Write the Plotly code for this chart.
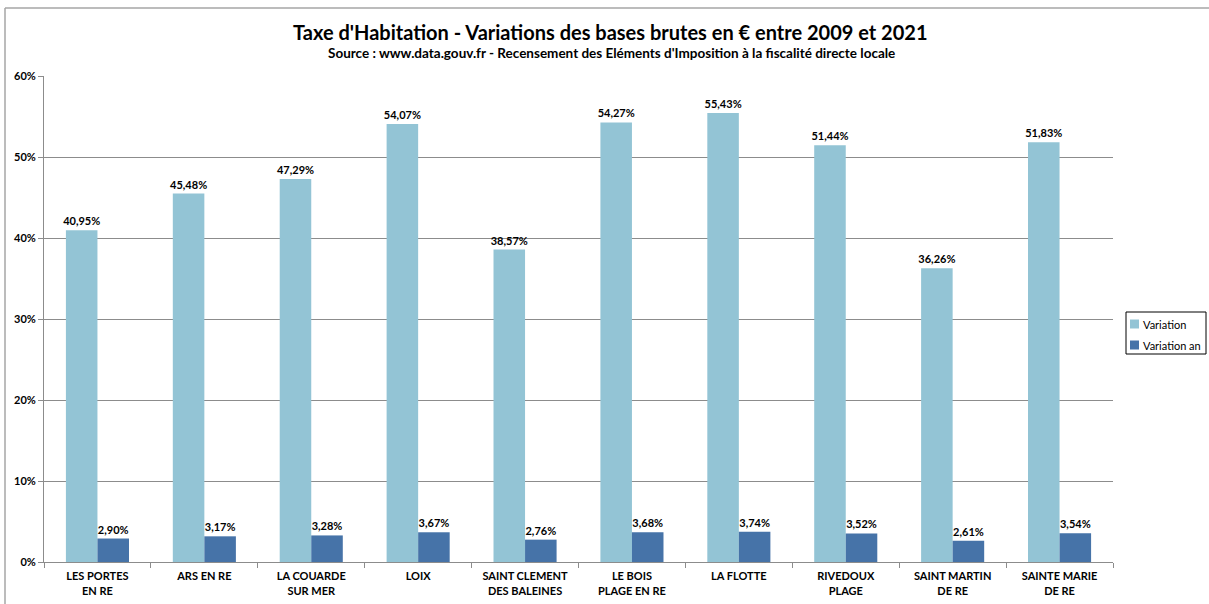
import plotly.graph_objects as go

communes = ["LES PORTES<br>EN RE", "ARS EN RE", "LA COUARDE<br>SUR MER", "LOIX",
            "SAINT CLEMENT<br>DES BALEINES", "LE BOIS<br>PLAGE EN RE", "LA FLOTTE",
            "RIVEDOUX<br>PLAGE", "SAINT MARTIN<br>DE RE", "SAINTE MARIE<br>DE RE"]
variation = [40.95, 45.48, 47.29, 54.07, 38.57, 54.27, 55.43, 51.44, 36.26, 51.83]
variation_an = [2.90, 3.17, 3.28, 3.67, 2.76, 3.68, 3.74, 3.52, 2.61, 3.54]
y_ticks = [0, 10, 20, 30, 40, 50, 60]
series_names = ["Variation", "Variation an"]
series_colors = ["#93C4D5", "#4673A8"]

FONT = "Lato"
W, H = 1209, 604
L, R, T, B = 44, 96, 76, 42
pw, ph = W - L - R, H - T - B


def fr(v):
    return f"{v:.2f}".replace(".", ",") + "%"


def px_x(x):
    return (x - L) / pw


def px_y(y):
    return (H - B - y) / ph


fig = go.Figure()
for name, color, vals in zip(series_names, series_colors, [variation, variation_an]):
    fig.add_trace(go.Bar(
        x=communes, y=[v / 100 for v in vals], name=name,
        marker=dict(color=color, line=dict(width=0)),
        text=[fr(v) for v in vals], textposition="outside", constraintext="none",
        textfont=dict(family=FONT, size=11, color="black", weight="bold"),
        cliponaxis=False,
    ))

# legend drawn as a framed box with swatches
shapes = [
    dict(type="rect", xref="paper", yref="paper", x0=px_x(1126), x1=px_x(1206),
         y0=px_y(354), y1=px_y(312), line=dict(color="black", width=1), fillcolor="white"),
    dict(type="line", xref="paper", yref="paper", x0=px_x(5), x1=px_x(1215),
         y0=px_y(8), y1=px_y(8), line=dict(color="#A6A6A6", width=1.5)),
    dict(type="line", xref="paper", yref="paper", x0=px_x(5), x1=px_x(5),
         y0=px_y(8), y1=px_y(610), line=dict(color="#A6A6A6", width=1.5)),
]
annotations = [
    dict(text="Taxe d'Habitation - Variations des bases brutes en € entre 2009 et 2021",
         x=px_x(610), y=px_y(32), xref="paper", yref="paper", showarrow=False,
         xanchor="center", yanchor="middle",
         font=dict(family=FONT, size=20, color="black", weight="bold")),
    dict(text="Source : www.data.gouv.fr - Recensement des Eléments d'Imposition à la fiscalité directe locale",
         x=px_x(611), y=px_y(53), xref="paper", yref="paper", showarrow=False,
         xanchor="center", yanchor="middle",
         font=dict(family=FONT, size=13.5, color="black", weight="bold")),
]
for i, (name, color) in enumerate(zip(series_names, series_colors)):
    yc = 324 + i * 21
    shapes.append(dict(type="rect", xref="paper", yref="paper",
                       x0=px_x(1130), x1=px_x(1139), y0=px_y(yc + 4.5), y1=px_y(yc - 4.5),
                       line=dict(width=0), fillcolor=color))
    annotations.append(dict(text=name, x=px_x(1141), y=px_y(yc), xref="paper", yref="paper",
                            showarrow=False, xanchor="left", yanchor="middle",
                            font=dict(family=FONT, size=11, color="black")))

fig.update_layout(
    width=W, height=H,
    margin=dict(l=L, r=R, t=T, b=B),
    paper_bgcolor="white", plot_bgcolor="white",
    barmode="group", bargap=0.41, bargroupgap=0,
    font=dict(family=FONT, size=11, color="black"),
    showlegend=False,
    xaxis=dict(showgrid=False, showline=True, linecolor="#8C8C8C", linewidth=1,
               ticks="outside", tickson="boundaries", ticklen=5, tickcolor="#8C8C8C",
               ticklabelstandoff=4, automargin=False,
               tickfont=dict(family=FONT, size=11, color="black", weight="bold")),
    yaxis=dict(range=[0, 0.6], tickvals=[t / 100 for t in y_ticks],
               ticktext=[f"{t}%" for t in y_ticks],
               showgrid=True, gridcolor="#8C8C8C", gridwidth=1,
               showline=True, linecolor="#8C8C8C", linewidth=1,
               ticks="outside", ticklen=5, tickcolor="#8C8C8C",
               zeroline=False, automargin=False,
               tickfont=dict(family=FONT, size=11, color="black", weight="bold")),
    annotations=annotations,
    shapes=shapes,
)

fig.write_html("out.html")
